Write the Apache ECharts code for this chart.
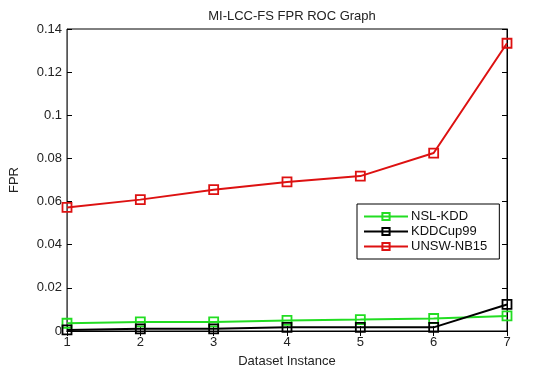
<!DOCTYPE html>
<html><head><meta charset="utf-8">
<script src="https://cdn.jsdelivr.net/npm/echarts@6/dist/echarts.min.js"></script>
<style>html,body{margin:0;padding:0;background:#fff}#c{width:548px;height:373px}</style>
</head><body><div id="c"></div>
<script>
var instances = [1, 2, 3, 4, 5, 6, 7];
var nslKdd = [0.0036, 0.0042, 0.0042, 0.0049, 0.0053, 0.0058, 0.0070];
var kddCup99 = [0.0005, 0.0010, 0.0010, 0.0017, 0.0017, 0.0017, 0.0123];
var unswNb15 = [0.0573, 0.0609, 0.0655, 0.0691, 0.0718, 0.0825, 0.1334];
var seriesNames = ['NSL-KDD', 'KDDCup99', 'UNSW-NB15'];
var seriesColors = ['#22dd22', '#000000', '#dd1111'];
var seriesData = [nslKdd, kddCup99, unswNb15];

function pairs(arr){ return arr.map(function(v,i){ return [instances[i], v]; }); }

var chart = echarts.init(document.getElementById('c'));
var font = 'Arial, "Liberation Sans", sans-serif';
var series = seriesData.map(function(d, i){
  return {
    name: seriesNames[i], type: 'line', data: pairs(d),
    symbol: 'rect', symbolSize: 9, showSymbol: true,
    lineStyle: {color: seriesColors[i], width: 2},
    itemStyle: {color: 'transparent', borderColor: seriesColors[i], borderWidth: 1.8},
    z: i === 2 ? 3 : 2
  };
});
chart.setOption({
  animation: false,
  backgroundColor: '#fff',
  title: {text: 'MI-LCC-FS FPR ROC Graph', left: 287, textAlign: 'center', top: 5,
    textStyle: {fontFamily: font, fontSize: 13, fontWeight: 'normal', color: '#222'}},
  grid: {left: 67, right: 41, top: 29, bottom: 36, show: true, borderColor: '#000', borderWidth: 1, backgroundColor: '#fff'},
  legend: {
    data: seriesNames, orient: 'vertical', left: 357, top: 204,
    backgroundColor: '#fff', borderColor: '#000', borderWidth: 1,
    padding: [6, 12, 6, 6], itemGap: 2, itemWidth: 44, itemHeight: 9,
    textStyle: {fontFamily: font, fontSize: 13, color: '#111', padding: [0,0,0,-2]}
  },
  xAxis: [{
    type: 'value', min: 1, max: 7, interval: 1,
    name: 'Dataset Instance', nameLocation: 'middle', nameGap: 24,
    nameTextStyle: {fontFamily: font, fontSize: 13, color: '#222'},
    axisLine: {show: true, lineStyle: {color: '#000'}},
    axisTick: {show: true, inside: true, length: 5, lineStyle: {color: '#000'}},
    axisLabel: {fontFamily: font, fontSize: 13, color: '#222', margin: 5},
    splitLine: {show: false}
  }, {
    type: 'value', min: 1, max: 7, interval: 1, position: 'top',
    axisLine: {show: true, lineStyle: {color: '#000'}},
    axisTick: {show: true, inside: true, length: 5, lineStyle: {color: '#000'}},
    axisLabel: {show: false}, splitLine: {show: false}
  }],
  yAxis: [{
    type: 'value', min: 0, max: 0.14, interval: 0.02,
    name: 'FPR', nameLocation: 'middle', nameGap: 46, nameRotate: 90,
    nameTextStyle: {fontFamily: font, fontSize: 13, color: '#222'},
    axisLine: {show: true, lineStyle: {color: '#555'}},
    axisTick: {show: true, inside: true, length: 5, lineStyle: {color: '#000'}},
    axisLabel: {fontFamily: font, fontSize: 13, color: '#222', margin: 5},
    splitLine: {show: false}
  }, {
    type: 'value', min: 0, max: 0.14, interval: 0.02, position: 'right',
    axisLine: {show: true, lineStyle: {color: '#000'}},
    axisTick: {show: true, inside: true, length: 5, lineStyle: {color: '#000'}},
    axisLabel: {show: false}, splitLine: {show: false}
  }],
  series: series
});
</script></body></html>
